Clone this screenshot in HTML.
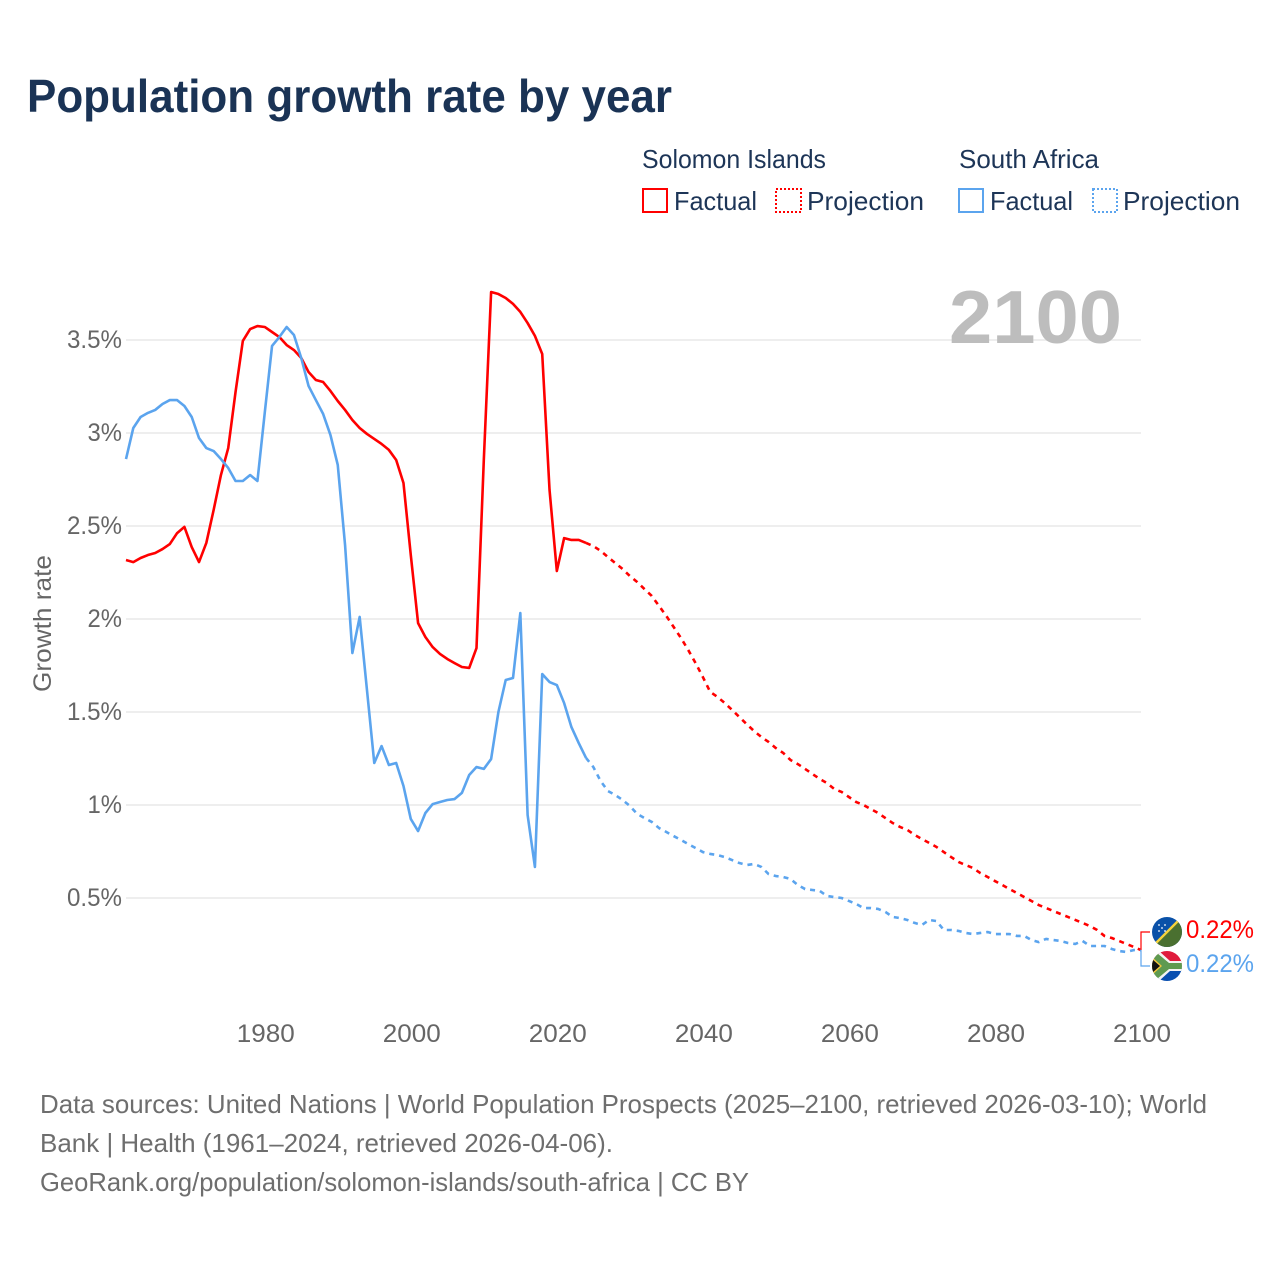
<!DOCTYPE html>
<html lang="en">
<head>
<meta charset="utf-8">
<title>Population growth rate by year</title>
<style>
html,body{margin:0;padding:0;background:#fff;}
svg{display:block;}
text{font-family:"Liberation Sans",sans-serif;}
</style>
</head>
<body>
<svg id="chart" width="1280" height="1280" viewBox="0 0 1280 1280" xmlns="http://www.w3.org/2000/svg">
  <rect width="1280" height="1280" fill="#fff"/>
  <text x="27" y="112" font-size="46" font-weight="700" fill="#1a3355" textLength="645" lengthAdjust="spacingAndGlyphs">Population growth rate by year</text>

  <g font-size="26" fill="#1d3557">
    <text x="642" y="168" textLength="184" lengthAdjust="spacingAndGlyphs">Solomon Islands</text>
    <text x="959" y="168" textLength="140" lengthAdjust="spacingAndGlyphs">South Africa</text>
    <rect x="643" y="189" width="24" height="23" fill="none" stroke="#ff0000" stroke-width="2"/>
    <text x="674" y="210" textLength="83" lengthAdjust="spacingAndGlyphs">Factual</text>
    <rect x="776" y="189" width="25" height="23" fill="none" stroke="#ff0000" stroke-width="2" stroke-dasharray="2 2"/>
    <text x="807" y="210" textLength="117" lengthAdjust="spacingAndGlyphs">Projection</text>
    <rect x="959" y="189" width="24" height="23" fill="none" stroke="#5ba4ee" stroke-width="2"/>
    <text x="990" y="210" textLength="83" lengthAdjust="spacingAndGlyphs">Factual</text>
    <rect x="1093" y="189" width="24" height="23" fill="none" stroke="#5ba4ee" stroke-width="2" stroke-dasharray="2 2"/>
    <text x="1123" y="210" textLength="117" lengthAdjust="spacingAndGlyphs">Projection</text>
  </g>

  <g id="grid"></g>
  <text x="949" y="343" font-size="75" font-weight="700" fill="#bdbdbd" textLength="173" lengthAdjust="spacingAndGlyphs">2100</text>
  <g id="yTicks" font-size="25" fill="#666"></g>
  <g id="xTicks" font-size="25" fill="#666"></g>
  <text transform="translate(51,692) rotate(-90)" font-size="25" fill="#666" textLength="137" lengthAdjust="spacingAndGlyphs">Growth rate</text>
  <g id="series" fill="none" stroke-width="2.6" stroke-linejoin="round"></g>
  <g id="connectors" fill="none" stroke-width="1.2"></g>

  <defs>
    <clipPath id="clipSolomon"><circle cx="1167" cy="932" r="15"/></clipPath>
    <clipPath id="clipSouthAfrica"><circle cx="1167" cy="966" r="15"/></clipPath>
  </defs>
  <g clip-path="url(#clipSolomon)">
    <rect x="1152" y="917" width="30" height="30" fill="#0a51a8"/>
    <polygon points="1182,917 1182,947 1152,947" fill="#4a7030"/>
    <line x1="1153" y1="946" x2="1181" y2="918" stroke="#f5d33c" stroke-width="2.4"/>
    <g fill="#fff">
      <circle cx="1159" cy="925" r=".9"/><circle cx="1165" cy="925" r=".9"/>
      <circle cx="1162" cy="928" r=".9"/><circle cx="1159" cy="931" r=".9"/><circle cx="1165" cy="931" r=".9"/>
    </g>
  </g>
  <g clip-path="url(#clipSouthAfrica)">
    <rect x="1152" y="951" width="30" height="15" fill="#e01b3c"/>
    <rect x="1152" y="966" width="30" height="15" fill="#0a4fb0"/>
    <polygon points="1152,951 1159,951 1170,961 1182,961 1182,971 1170,971 1159,981 1152,981" fill="#f4f4f4"/>
    <polygon points="1152,953 1157,953 1169,963 1182,963 1182,969 1169,969 1157,979 1152,979" fill="#5f9a50"/>
    <polygon points="1152,957 1162,966 1152,975" fill="#f5c63c"/>
    <polygon points="1152,959 1160,966 1152,973" fill="#111"/>
  </g>
  <g id="endLabels" font-size="25"></g>

  <g font-size="26" fill="#6e6e6e">
    <text x="40" y="1113" textLength="1167" lengthAdjust="spacingAndGlyphs">Data sources: United Nations | World Population Prospects (2025–2100, retrieved 2026-03-10); World</text>
    <text x="40" y="1152" textLength="573" lengthAdjust="spacingAndGlyphs">Bank | Health (1961–2024, retrieved 2026-04-06).</text>
    <text x="40" y="1191" textLength="709" lengthAdjust="spacingAndGlyphs">GeoRank.org/population/solomon-islands/south-africa | CC BY</text>
  </g>
</svg>

<script>
const factualYears = [1961,1962,1963,1964,1965,1966,1967,1968,1969,1970,1971,1972,1973,1974,1975,1976,1977,1978,1979,1980,1981,1982,1983,1984,1985,1986,1987,1988,1989,1990,1991,1992,1993,1994,1995,1996,1997,1998,1999,2000,2001,2002,2003,2004,2005,2006,2007,2008,2009,2010,2011,2012,2013,2014,2015,2016,2017,2018,2019,2020,2021,2022,2023,2024];
const projectionYears = [2025,2026,2027,2028,2029,2030,2031,2032,2033,2034,2035,2036,2037,2038,2039,2040,2041,2042,2043,2044,2045,2046,2047,2048,2049,2050,2051,2052,2053,2054,2055,2056,2057,2058,2059,2060,2061,2062,2063,2064,2065,2066,2067,2068,2069,2070,2071,2072,2073,2074,2075,2076,2077,2078,2079,2080,2081,2082,2083,2084,2085,2086,2087,2088,2089,2090,2091,2092,2093,2094,2095,2096,2097,2098,2099,2100];

const solomonFactual = [2.317,2.306,2.328,2.344,2.355,2.376,2.403,2.462,2.495,2.387,2.306,2.409,2.586,2.774,2.919,3.220,3.495,3.559,3.575,3.570,3.543,3.516,3.473,3.446,3.403,3.328,3.285,3.274,3.226,3.172,3.124,3.070,3.027,2.995,2.968,2.941,2.909,2.855,2.731,2.344,1.978,1.903,1.849,1.812,1.785,1.763,1.742,1.737,1.844,2.855,3.758,3.747,3.726,3.694,3.651,3.591,3.522,3.425,2.694,2.258,2.435,2.425,2.425,2.409];
const solomonProjection = [2.392,2.366,2.333,2.301,2.269,2.231,2.199,2.161,2.124,2.070,2.016,1.957,1.898,1.833,1.763,1.688,1.608,1.581,1.548,1.511,1.473,1.435,1.398,1.366,1.339,1.306,1.280,1.242,1.220,1.194,1.167,1.140,1.118,1.086,1.070,1.043,1.016,1.000,0.978,0.957,0.930,0.903,0.882,0.866,0.839,0.817,0.796,0.774,0.747,0.720,0.694,0.677,0.661,0.634,0.613,0.591,0.570,0.548,0.527,0.505,0.484,0.462,0.446,0.430,0.414,0.398,0.382,0.366,0.349,0.328,0.296,0.285,0.269,0.253,0.237,0.220];
const southAfricaFactual = [2.860,3.027,3.086,3.108,3.124,3.156,3.177,3.177,3.145,3.086,2.973,2.919,2.903,2.860,2.812,2.742,2.742,2.774,2.742,3.108,3.468,3.516,3.570,3.527,3.403,3.253,3.177,3.102,2.989,2.828,2.398,1.817,2.011,1.618,1.226,1.317,1.215,1.226,1.102,0.925,0.860,0.957,1.005,1.016,1.027,1.032,1.065,1.161,1.204,1.194,1.247,1.500,1.672,1.683,2.032,0.946,0.667,1.704,1.661,1.645,1.548,1.419,1.333,1.253];
const southAfricaProjection = [1.204,1.129,1.075,1.054,1.027,0.995,0.952,0.930,0.909,0.876,0.855,0.833,0.812,0.790,0.769,0.747,0.737,0.731,0.720,0.704,0.688,0.677,0.683,0.667,0.629,0.618,0.613,0.602,0.570,0.548,0.543,0.538,0.511,0.505,0.500,0.484,0.468,0.446,0.446,0.441,0.425,0.398,0.392,0.382,0.366,0.355,0.382,0.376,0.328,0.328,0.323,0.312,0.306,0.312,0.317,0.306,0.306,0.306,0.296,0.296,0.274,0.263,0.280,0.274,0.269,0.258,0.253,0.269,0.242,0.242,0.242,0.226,0.215,0.210,0.220,0.220];

const yTickValues = [0.5,1,1.5,2,2.5,3,3.5];
const yTickLabels = ["0.5%","1%","1.5%","2%","2.5%","3%","3.5%"];
const xTickValues = [1980,2000,2020,2040,2060,2080,2100];
const xTickLabels = ["1980","2000","2020","2040","2060","2080","2100"];

const SVG_NS = "http://www.w3.org/2000/svg";
const RED = "#ff0000";
const BLUE = "#5ba4ee";
const PLOT_LEFT = 126, PLOT_RIGHT = 1141;
const X_START = 1961, X_END = 2100;
const Y_ZERO = 991, PX_PER_UNIT = 186;

function xScale(year) { return PLOT_LEFT + (year - X_START) * (PLOT_RIGHT - PLOT_LEFT) / (X_END - X_START); }
function yScale(value) { return Y_ZERO - value * PX_PER_UNIT; }
function linePath(years, values) {
  return years.map(function (yr, i) {
    return (i ? "L" : "M") + xScale(yr).toFixed(2) + " " + yScale(values[i]).toFixed(2);
  }).join("");
}
function labelWidth(label) {
  let w = 0;
  for (const ch of label) w += ch === "." ? 6 : ch === "%" ? 20 : 14.5;
  return w;
}

const gridGroup = document.getElementById("grid");
const yGroup = document.getElementById("yTicks");
const xGroup = document.getElementById("xTicks");
const seriesGroup = document.getElementById("series");
const connectorGroup = document.getElementById("connectors");
const endGroup = document.getElementById("endLabels");

yTickValues.forEach(function (v, i) {
  const line = document.createElementNS(SVG_NS, "line");
  
  
  line.setAttribute("x1", PLOT_LEFT);
  line.setAttribute("x2", PLOT_RIGHT);
  line.setAttribute("y1", yScale(v));
  line.setAttribute("y2", yScale(v));
  line.setAttribute("stroke", "#eeeeee");
  line.setAttribute("stroke-width", "2");
  gridGroup.appendChild(line);

  const t = document.createElementNS(SVG_NS, "text");
  
  
  const w = labelWidth(yTickLabels[i]);
  t.setAttribute("x", 122 - w);
  t.setAttribute("y", yScale(v) + 8);
  t.setAttribute("textLength", w);
  t.setAttribute("lengthAdjust", "spacingAndGlyphs");
  t.textContent = yTickLabels[i];
  yGroup.appendChild(t);
});

xTickValues.forEach(function (yr, i) {
  const t = document.createElementNS(SVG_NS, "text");
  
  
  const w = labelWidth(xTickLabels[i]);
  t.setAttribute("x", xScale(yr) + 1 - w / 2);
  t.setAttribute("y", 1042);
  t.setAttribute("textLength", w);
  t.setAttribute("lengthAdjust", "spacingAndGlyphs");
  t.textContent = xTickLabels[i];
  xGroup.appendChild(t);
});

function drawFactual(name, values, color) {
  const p = document.createElementNS(SVG_NS, "path");
  
  
  p.setAttribute("d", linePath(factualYears, values));
  p.setAttribute("stroke", color);
  seriesGroup.appendChild(p);
}
function drawProjection(name, factual, values, color) {
  const lastIdx = factual.length - 1;
  const years = [factualYears[lastIdx]].concat(projectionYears);
  const vals = [factual[lastIdx]].concat(values);
  const p = document.createElementNS(SVG_NS, "path");
  
  
  p.setAttribute("d", linePath(years, vals));
  p.setAttribute("stroke", color);
  p.setAttribute("stroke-dasharray", "5 5");
  seriesGroup.appendChild(p);
}
drawProjection("solomon-islands-projection-line", solomonFactual, solomonProjection, RED);
drawProjection("south-africa-projection-line", southAfricaFactual, southAfricaProjection, BLUE);
drawFactual("solomon-islands-factual-line", solomonFactual, RED);
drawFactual("south-africa-factual-line", southAfricaFactual, BLUE);

function drawEnd(nameLine, nameLabel, values, color, labelMidY) {
  const last = values[values.length - 1];
  const c = document.createElementNS(SVG_NS, "path");
  
  
  c.setAttribute("d", "M" + xScale(X_END) + " " + yScale(last) + "V" + labelMidY + "H1150");
  c.setAttribute("stroke", color);
  connectorGroup.appendChild(c);

  const t = document.createElementNS(SVG_NS, "text");
  
  
  t.setAttribute("x", 1186);
  t.setAttribute("y", labelMidY + 6);
  t.setAttribute("fill", color);
  t.setAttribute("textLength", 68);
  t.setAttribute("lengthAdjust", "spacingAndGlyphs");
  t.textContent = last.toFixed(2) + "%";
  endGroup.appendChild(t);
}
drawEnd("solomon-islands-connector", "solomon-islands-end-value", solomonProjection, RED, 932);
drawEnd("south-africa-connector", "south-africa-end-value", southAfricaProjection, BLUE, 966);
</script>
</body>
</html>
